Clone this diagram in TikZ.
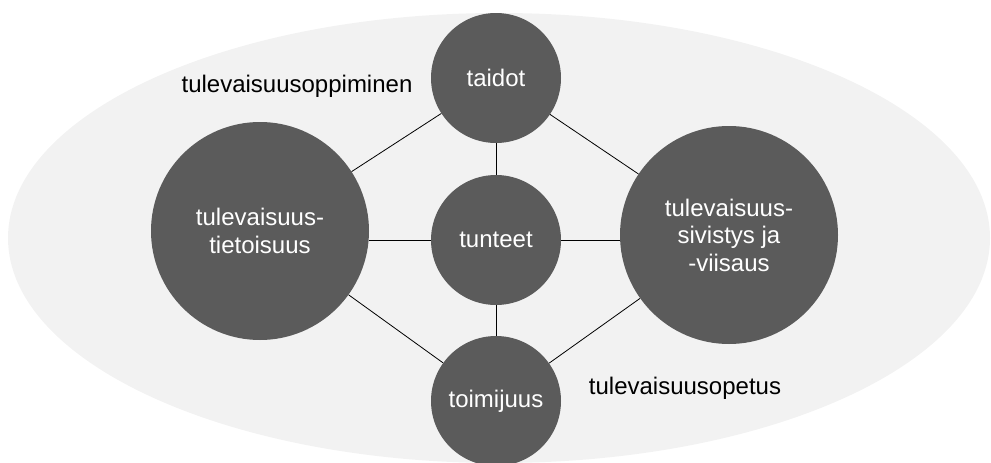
\documentclass[tikz,border=0pt]{standalone}
\usepackage{fontspec}
\setmainfont{Liberation Sans}
\usetikzlibrary{calc}

\definecolor{bggray}{HTML}{F2F2F2}
\definecolor{ballgray}{HTML}{5B5B5B}

\begin{document}
\begin{tikzpicture}[x=1pt, y=-1pt,
    ball/.style={circle, fill=ballgray, text=white, inner sep=0pt, align=center,
      font=\fontsize{24}{27.5}\selectfont},
    small/.style={ball, minimum size=130pt},
    big/.style={ball, minimum size=218pt},
    link/.style={draw=black, line width=0.8pt},
    tag/.style={font=\fontsize{24}{27.5}\selectfont}]
  \clip (0,0) rectangle (991,463);
  \fill[bggray] (499,238) ellipse [x radius=491pt, y radius=225pt];
  % the five circles
  \node[small] (taidot) at (496,78) {taidot};
  \node[small] (tunteet) at (496,240) {tunteet};
  \node[small] (toimijuus) at (496,401) {toimijuus};
  \node[big] (tietoisuus) at (260,231) {tulevaisuus-\\tietoisuus};
  \node[big] (sivistys) at (729,235) {tulevaisuus-\\sivistys ja\\-viisaus};
  % connectors
  \draw[link] (taidot) -- (tietoisuus);
  \draw[link] (taidot) -- (sivistys);
  \draw[link] (taidot) -- (tunteet);
  \draw[link] (tunteet) -- (tunteet -| tietoisuus.east);
  \draw[link] (tunteet) -- (tunteet -| sivistys.west);
  \draw[link] (tunteet) -- (toimijuus);
  \draw[link] (toimijuus) -- (tietoisuus);
  \draw[link] (toimijuus) -- (sivistys);
  % labels
  \node[tag] (oppiminen) at (297,86) {tulevaisuusoppiminen};
  \node[tag] (opetus) at (685,388) {tulevaisuusopetus};
\end{tikzpicture}
\end{document}
